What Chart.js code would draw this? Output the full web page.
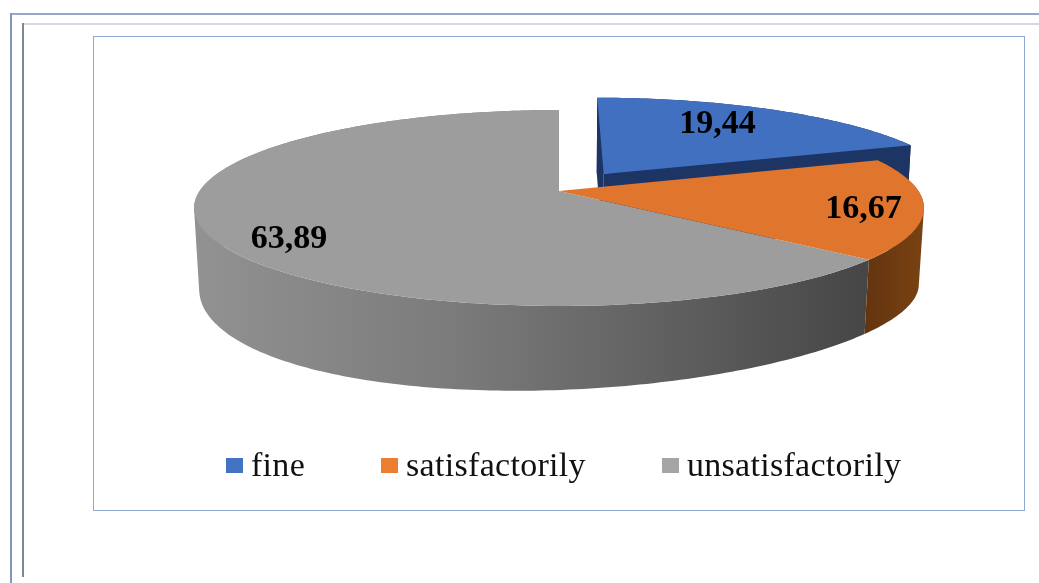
<!DOCTYPE html>
<html>
<head>
<meta charset="utf-8">
<title>Assessment results</title>
<script src="https://cdn.jsdelivr.net/npm/chart.js@4"></script>
<style>
  html, body { margin: 0; padding: 0; background: #fff; overflow: hidden; }
  body { width: 1039px; height: 583px; position: relative; }
  .rule { position: absolute; }
  #outerTop { left: 10px; top: 13px; right: 0; height: 2px; background: #98a9c8; }
  #outerLeft { left: 10px; top: 13px; bottom: 0; width: 2px; background: #8298b8; }
  #innerTop { left: 22px; top: 23px; right: 0; height: 2px; background: #d3d8e2; }
  #innerLeft { left: 22px; top: 23px; height: 554px; width: 2px; background: #7f8796; }
  #chartBox {
    position: absolute; left: 93px; top: 36px; width: 930px; height: 473px;
    border: 1px solid #8eaad2; background: #fff;
  }
  #salesPie { position: absolute; left: 0; top: 0; }
  #legend {
    position: absolute; left: 132px; top: 409px; display: flex; white-space: nowrap;
    font: 34px "Liberation Serif", serif; letter-spacing: 0.3px; color: #111; line-height: 38px;
  }
  #legend .item { display: flex; align-items: center; margin-right: 76px; }
  #legend .swatch { width: 17px; height: 15px; margin-right: 8px; }
</style>
</head>
<body>
<div class="rule" id="outerTop"></div>
<div class="rule" id="outerLeft"></div>
<div class="rule" id="innerTop"></div>
<div class="rule" id="innerLeft"></div>
<div id="chartBox">
  <canvas id="salesPie" width="930" height="473"></canvas>
  <div id="legend"></div>
</div>
<script>
const categories = ["fine", "satisfactorily", "unsatisfactorily"];
const shares = [19.44, 16.67, 63.89];
const explodedBy = [31, 0, 0];

const topColors = ["#4170c0", "#e0752d", "#9d9d9d"];
const legendColors = ["#4472c4", "#ed7d31", "#a5a5a5"];

// perspective of the disc
const halfWidth = 359.4;
const halfDepth = 95;
const tilt = 0.1735;
const rimDrop = 78;
const rimDepth = 100;
const rimShrink = 0.986;
const rimTwist = 15;

// where each value label sits: turn from the slice middle (radians), reach along the radius
const labelTurn = [-0.075, 0.033, -0.15];
const labelReach = [0.735, 0.84, 0.83];

function sliceShift(arc) {
  const mid = (arc.startAngle + arc.endAngle) / 2;
  const amount = arc.options.offset / arc.outerRadius;
  return { u: amount * Math.cos(mid), v: amount * Math.sin(mid) };
}

function project(arc, angle, reach, onRim) {
  const shift = sliceShift(arc);
  const u = reach * Math.cos(angle) + shift.u;
  const v = reach * Math.sin(angle) + shift.v;
  const w = 1 - tilt * v;
  if (onRim) {
    return {
      x: arc.x + rimShrink * halfWidth * u / w,
      y: arc.y + rimDrop + rimDepth * v / w - rimTwist * u * v,
    };
  }
  return { x: arc.x + halfWidth * u / w, y: arc.y + halfDepth * v / w };
}

function edgePoints(arc, onRim) {
  const points = [];
  const steps = Math.ceil((arc.endAngle - arc.startAngle) * 60);
  for (let i = 0; i <= steps; i++) {
    const angle = arc.startAngle + (arc.endAngle - arc.startAngle) * i / steps;
    points.push(project(arc, angle, 1, onRim));
  }
  return points;
}

function fillPath(ctx, points, fill) {
  ctx.beginPath();
  points.forEach((p, i) => (i ? ctx.lineTo(p.x, p.y) : ctx.moveTo(p.x, p.y)));
  ctx.closePath();
  ctx.fillStyle = fill;
  ctx.fill();
}

// the wall is swept as small quads, all wound the same way, so the
// silhouette at the far left and right of the disc stays closed
function drawRim(ctx, arc, fill) {
  const upper = edgePoints(arc, false);
  const lower = edgePoints(arc, true);
  ctx.beginPath();
  for (let i = 0; i < upper.length - 1; i++) {
    let quad = [upper[i], upper[i + 1], lower[i + 1], lower[i]];
    let area = 0;
    quad.forEach((p, j) => {
      const q = quad[(j + 1) % 4];
      area += p.x * q.y - q.x * p.y;
    });
    if (area < 0) quad = quad.reverse();
    quad.forEach((p, j) => (j ? ctx.lineTo(p.x, p.y) : ctx.moveTo(p.x, p.y)));
    ctx.closePath();
  }
  ctx.fillStyle = fill;
  ctx.fill();
}

function drawTop(ctx, arc, fill) {
  fillPath(ctx, [project(arc, 0, 0, false)].concat(edgePoints(arc, false)), fill);
}

// the pulled-out slice also shows its two cut faces
function drawCutFaces(ctx, arc, fill) {
  [arc.startAngle, arc.endAngle].forEach((angle) => {
    fillPath(ctx, [
      project(arc, angle, 0, false),
      project(arc, angle, 1, false),
      project(arc, angle, 1, true),
      project(arc, angle, 0, true),
    ], fill);
  });
}

function horizontalShade(ctx, x0, x1, stops) {
  const shade = ctx.createLinearGradient(x0, 0, x1, 0);
  stops.forEach((s) => shade.addColorStop(s[0], s[1]));
  return shade;
}

const disc3d = {
  id: "disc3d",
  beforeDatasetsDraw(chart) {
    const ctx = chart.ctx;
    const arcs = chart.getDatasetMeta(0).data;
    const cx = arcs[0].x;

    ctx.save();
    drawCutFaces(ctx, arcs[0], "#1c3564");
    drawRim(ctx, arcs[0], "#1c3564");
    drawTop(ctx, arcs[0], topColors[0]);

    drawRim(ctx, arcs[2], horizontalShade(ctx, cx - 365, cx + 307, [
      [0, "#929292"],
      [0.4, "#7a7a7a"],
      [0.75, "#5c5c5c"],
      [1, "#464646"],
    ]));
    drawRim(ctx, arcs[1], horizontalShade(ctx, cx + 305, cx + 365, [
      [0, "#62340f"],
      [1, "#7a4213"],
    ]));
    drawTop(ctx, arcs[2], topColors[2]);
    drawTop(ctx, arcs[1], topColors[1]);

    ctx.font = 'bold 34px "Liberation Serif", serif';
    ctx.fillStyle = "#000";
    ctx.textAlign = "center";
    ctx.textBaseline = "middle";
    arcs.forEach((arc, i) => {
      const mid = (arc.startAngle + arc.endAngle) / 2 + labelTurn[i];
      const spot = project(arc, mid, labelReach[i], false);
      ctx.fillText(shares[i].toFixed(2).replace(".", ","), spot.x, spot.y + 1);
    });
    ctx.restore();

    // slices are painted above, skip the flat default ones
    return false;
  },
};

document.addEventListener("DOMContentLoaded", function () {
  const canvas = document.getElementById("salesPie");
  const ctx = canvas.getContext("2d");

  new Chart(ctx, {
    type: "pie",
    data: {
      labels: categories,
      datasets: [
        {
          data: shares,
          backgroundColor: topColors,
          offset: explodedBy,
          borderWidth: 0,
        },
      ],
    },
    options: {
      responsive: false,
      animation: false,
      events: [],
      layout: { padding: { bottom: 165 } },
      plugins: {
        legend: { display: false },
        tooltip: { enabled: false },
      },
    },
    plugins: [disc3d],
  });

  const legend = document.getElementById("legend");
  categories.forEach((name, i) => {
    const item = document.createElement("div");
    item.className = "item";
    const swatch = document.createElement("span");
    swatch.className = "swatch";
    swatch.style.background = legendColors[i];
    item.appendChild(swatch);
    item.appendChild(document.createTextNode(name));
    legend.appendChild(item);
  });
});
</script>
</body>
</html>
